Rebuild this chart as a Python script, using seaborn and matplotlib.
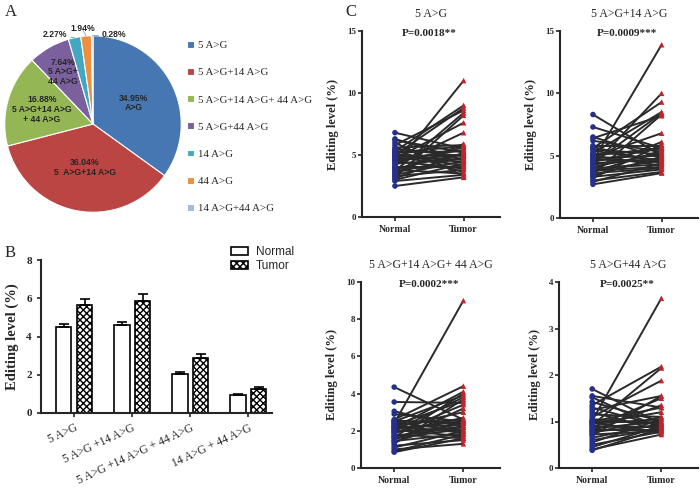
import numpy as np
import pandas as pd
import matplotlib
matplotlib.use("Agg")
import matplotlib.pyplot as plt
from matplotlib.patches import Patch
import seaborn as sns

W, H = 700, 488

# --- A: pie of editing-site combinations ---
pie_labels = ["5 A>G", "5 A>G+14 A>G", "5 A>G+14 A>G+ 44 A>G", "5 A>G+44 A>G",
              "14 A>G", "44 A>G", "14 A>G+44 A>G"]
pie_shares = [34.95, 36.04, 16.88, 7.64, 2.27, 1.94, 0.28]
pie_texts = ["34.95%\nA>G", "36.04%\n5  A>G+14 A>G", "16.88%\n5 A>G+14 A>G\n+ 44 A>G",
             "7.64%\n5 A>G+\n44 A>G", "2.27%", "1.94%", "0.28%"]
pie_colors = ["#4677B2", "#BA4542", "#95B655", "#7B609E", "#43A7C2", "#EE8E3E", "#A3BBDD"]

# --- B: mean editing level (bars) ---
bar_groups = ["5 A>G", "5 A>G +14 A>G", "5 A>G +14 A>G + 44 A>G", "14 A>G + 44 A>G"]
bar_normal = [4.50, 4.60, 2.03, 0.95]
bar_normal_err = [0.15, 0.18, 0.10, 0.04]
bar_tumor = [5.65, 5.85, 2.85, 1.27]
bar_tumor_err = [0.30, 0.36, 0.22, 0.08]

# --- C: paired normal / tumor samples ---
p1_title = "5 A>G"
p1_pval = "P=0.0018**"
p1_normal = [6.8, 6.3, 6.2, 6.0, 5.8, 5.6, 5.5, 5.4, 5.3, 5.2, 5.1, 5.0, 4.9, 4.8, 4.7, 4.6, 4.5, 4.4, 4.3,
             4.2, 4.1, 4.0, 3.9, 3.8, 3.7, 3.6, 3.5, 3.4, 3.3, 3.2, 3.1, 3.0, 2.9, 2.5, 4.6, 4.9, 5.2, 3.9]
p1_tumor = [5.5, 4.6, 5.2, 3.3, 8.6, 5.8, 4.9, 3.6, 9.0, 5.3, 4.4, 8.8, 5.0, 4.2, 7.6, 5.4, 3.9, 5.6, 4.7,
            6.8, 11.0, 4.0, 5.1, 3.5, 8.4, 4.8, 5.9, 4.5, 3.8, 8.2, 5.2, 4.3, 3.4, 3.2, 5.0, 4.6, 5.7, 4.1]

p2_title = "5 A>G+14 A>G"
p2_pval = "P=0.0009***"
p2_normal = [8.3, 7.3, 6.5, 6.4, 6.2, 5.8, 5.7, 5.6, 5.5, 5.4, 5.2, 5.1, 5.0, 4.9, 4.8, 4.7, 4.6, 4.5, 4.4,
             4.3, 4.2, 4.1, 4.0, 3.9, 3.8, 3.7, 3.6, 3.5, 3.4, 3.3, 3.2, 3.0, 2.9, 2.7, 4.4, 5.0, 3.8]
p2_tumor = [5.0, 5.6, 4.8, 8.2, 5.3, 5.8, 4.4, 9.3, 5.1, 4.6, 8.5, 5.5, 4.2, 6.8, 5.0, 4.5, 13.9, 5.7, 8.4,
            4.8, 10.0, 5.2, 4.3, 6.1, 4.6, 5.4, 4.0, 8.3, 4.9, 3.9, 5.9, 3.7, 4.4, 3.6, 4.7, 5.6, 4.1]

p3_title = "5 A>G+14 A>G+ 44 A>G"
p3_pval = "P=0.0002***"
p3_normal = [4.35, 3.55, 3.05, 2.9, 2.6, 2.55, 2.5, 2.45, 2.4, 2.35, 2.3, 2.25, 2.2, 2.15, 2.1, 2.05, 2.0, 1.95,
             1.9, 1.85, 1.8, 1.7, 1.65, 1.6, 1.5, 1.45, 1.4, 1.3, 1.2, 1.1, 1.0, 0.9, 0.85, 2.5, 2.2, 1.7]
p3_tumor = [2.6, 3.5, 2.2, 2.5, 4.4, 2.4, 3.9, 2.0, 9.0, 2.6, 3.6, 1.9, 2.3, 4.1, 2.5, 1.7, 3.8, 2.2,
            2.7, 3.4, 1.6, 2.4, 4.0, 2.1, 3.2, 1.85, 2.55, 3.7, 1.5, 2.0, 1.3, 1.8, 1.6, 2.45, 3.0, 2.2]

p4_title = "5 A>G+44 A>G"
p4_pval = "P=0.0025**"
p4_normal = [1.7, 1.55, 1.52, 1.42, 1.35, 1.3, 1.25, 1.2, 1.15, 1.1, 1.05, 1.02, 1.0, 0.98, 0.95, 0.92, 0.9,
             0.87, 0.85, 0.82, 0.8, 0.78, 0.75, 0.72, 0.7, 0.65, 0.6, 0.55, 0.5, 0.45, 0.4, 0.38, 0.95, 1.0]
p4_tumor = [0.95, 1.3, 0.85, 1.0, 2.18, 0.9, 1.55, 0.8, 1.1, 1.88, 0.95, 3.65, 1.3, 0.75, 1.05, 2.15, 0.88,
            1.5, 1.0, 0.82, 1.35, 0.92, 1.1, 0.8, 1.55, 0.95, 0.85, 1.05, 0.78, 0.9, 0.72, 0.85, 1.2, 0.98]

conditions = ["Normal", "Tumor"]

sns.set_style("ticks")
plt.rcParams["font.family"] = ["Liberation Serif", "DejaVu Sans"]
plt.rcParams["axes.linewidth"] = 1.5


def px_axes(fig, left, top, right, bottom):
    return fig.add_axes([left / W, 1 - bottom / H, (right - left) / W, (bottom - top) / H])


fig = plt.figure(figsize=(W / 100, H / 100), dpi=100)

# ---------------- A ----------------
ax = px_axes(fig, 3, 34, 183, 214)
wedges, _ = ax.pie(pie_shares, colors=pie_colors, startangle=90, counterclock=False,
                   wedgeprops=dict(edgecolor="white", linewidth=0.8))
ax.set_xlim(-1.02, 1.02)
ax.set_ylim(-1.02, 1.02)
ax.set_aspect("equal")

label_r = [0.52, 0.5, 0.6, 0.68]
for i, w in enumerate(wedges):
    ang = np.deg2rad((w.theta1 + w.theta2) / 2)
    if i < 4:
        r = label_r[i]
        ax.text(r * np.cos(ang), r * np.sin(ang), pie_texts[i], ha="center", va="center",
                fontsize=6.2, fontweight="bold", family="Liberation Sans", linespacing=1.1)
# small slices: labels outside with leader lines
outside = {4: (-0.43, 1.01), 5: (-0.12, 1.08), 6: (0.24, 1.01)}
for i, (tx, ty) in outside.items():
    w = wedges[i]
    ang = np.deg2rad((w.theta1 + w.theta2) / 2)
    ax.annotate(pie_texts[i], xy=(np.cos(ang), np.sin(ang)), xytext=(tx, ty),
                ha="center", va="center", fontsize=6.2, fontweight="bold", family="Liberation Sans",
                arrowprops=dict(arrowstyle="-", color="#999999", lw=0.6, shrinkA=6, shrinkB=0))

ax.legend(wedges, pie_labels, loc="upper left", bbox_to_anchor=(187 / W, 1 - 41 / H),
          bbox_transform=fig.transFigure, frameon=False, fontsize=7.8,
          handlelength=0.6, handleheight=0.6, handletextpad=0.4, labelspacing=1.65,
          borderaxespad=0, borderpad=0)

# ---------------- B ----------------
ax = px_axes(fig, 41, 260, 272, 413)
df_bar = pd.DataFrame({
    "group": bar_groups * 2,
    "tissue": ["Normal"] * len(bar_groups) + ["Tumor"] * len(bar_groups),
    "level": bar_normal + bar_tumor,
})
sns.barplot(data=df_bar, x="group", y="level", hue="tissue", order=bar_groups,
            palette={"Normal": "white", "Tumor": "white"}, edgecolor="black", linewidth=1.2,
            width=0.72, gap=0.25, errorbar=None, legend=False, ax=ax)
for cont, errs, hatch in zip(ax.containers, [bar_normal_err, bar_tumor_err], ["", "xxxxx"]):
    xs, ys = [], []
    for bar in cont:
        bar.set_hatch(hatch)
        xs.append(bar.get_x() + bar.get_width() / 2)
        ys.append(bar.get_height())
    ax.errorbar(xs, ys, yerr=[np.zeros(len(errs)), errs], fmt="none", ecolor="black",
                elinewidth=1.2, capsize=3.5, capthick=1.2)
ax.set_xlim(-0.57, 3.41)
ax.set_ylim(0, 8)
ax.set_yticks([0, 2, 4, 6, 8])
ax.set_xlabel("")
ax.set_ylabel("Editing level (%)", fontsize=10.5, fontweight="bold", labelpad=5)
ax.tick_params(axis="y", labelsize=8, width=1.2, length=3)
ax.tick_params(axis="x", labelsize=8.3, width=1.2, length=3)
for t in ax.get_yticklabels():
    t.set_fontweight("bold")
plt.setp(ax.get_xticklabels(), rotation=25, ha="right", rotation_mode="anchor")
sns.despine(ax=ax)
fig.legend([Patch(facecolor="white", edgecolor="black", lw=1.2),
            Patch(facecolor="white", edgecolor="black", lw=1.2, hatch="xxxxx")],
           ["Normal", "Tumor"], loc="upper left", bbox_to_anchor=(231 / W, 1 - 246 / H),
           frameon=False, prop=dict(family="Liberation Sans", size=8.5),
           handlelength=1.4, handleheight=0.7, handletextpad=0.7, labelspacing=0.15,
           borderaxespad=0, borderpad=0)

# ---------------- C ----------------
panels = [
    (p1_title, p1_pval, p1_normal, p1_tumor, (362, 31, 500, 217), 15, [0, 5, 10, 15]),
    (p2_title, p2_pval, p2_normal, p2_tumor, (560, 31, 698, 218), 15, [0, 5, 10, 15]),
    (p3_title, p3_pval, p3_normal, p3_tumor, (361, 282, 500, 468), 10, [0, 2, 4, 6, 8, 10]),
    (p4_title, p4_pval, p4_normal, p4_tumor, (559, 282, 698, 468), 4, [0, 1, 2, 3, 4]),
]
for title, pval, normal, tumor, box, ymax, yticks in panels:
    ax = px_axes(fig, *box)
    n = len(normal)
    df = pd.DataFrame({
        "pair": list(range(n)) * 2,
        "cond": ["Normal"] * n + ["Tumor"] * n,
        "pos": [0] * n + [1] * n,
        "level": normal + tumor,
    })
    sns.lineplot(data=df, x="pos", y="level", units="pair", estimator=None,
                 color="#2a2a2a", lw=1.4, ax=ax)
    sns.scatterplot(data=df, x="pos", y="level", hue="cond", style="cond",
                    markers={"Normal": "o", "Tumor": "^"},
                    palette={"Normal": "#25308A", "Tumor": "#C0252B"},
                    s=16, linewidth=0, legend=False, zorder=3, ax=ax)
    ax.set_xlim(-0.48, 1.53)
    ax.set_ylim(0, ymax)
    ax.set_yticks(yticks)
    ax.set_xticks([0, 1])
    ax.set_xticklabels(conditions, fontsize=7, fontweight="bold")
    ax.set_xlabel("")
    ax.set_ylabel("Editing level (%)", fontsize=9, fontweight="bold", labelpad=6)
    ax.tick_params(axis="y", labelsize=6.5, width=1.2, length=3, pad=1)
    ax.tick_params(axis="x", width=1.2, length=3, pad=3)
    for t in ax.get_yticklabels():
        t.set_fontweight("bold")
    ax.set_title(title, fontsize=8.5, pad=10)
    ax.text(0.5, ymax * 0.985, pval, ha="center", va="center", fontsize=8, fontweight="bold")
    sns.despine(ax=ax)

fig.text(5 / W, 1 - 12 / H, "A", fontsize=12, va="center")
fig.text(5 / W, 1 - 253 / H, "B", fontsize=12, va="center")
fig.text(345 / W, 1 - 12 / H, "C", fontsize=12, va="center")

fig.savefig("out.png", dpi=100)
